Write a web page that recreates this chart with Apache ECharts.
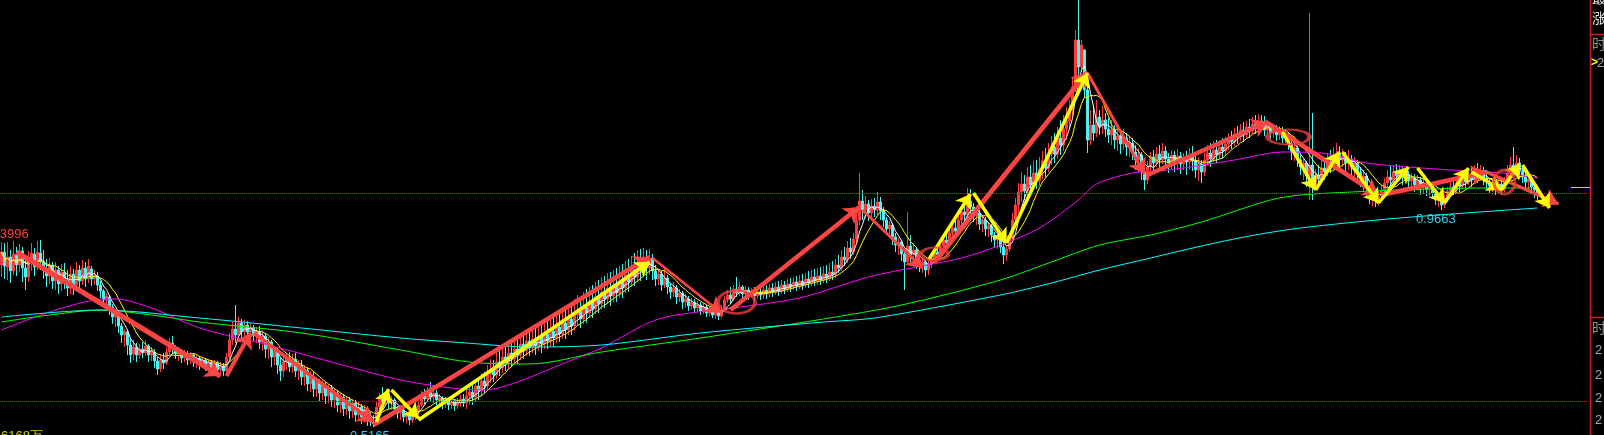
<!DOCTYPE html>
<html><head><meta charset="utf-8">
<script src="https://cdn.jsdelivr.net/npm/echarts/dist/echarts.min.js"></script>
<style>html,body{margin:0;padding:0;background:#000;overflow:hidden}#c{width:1604px;height:435px}</style>
</head><body><div id="c"></div>
<script>
// price values in thousandths: [open, close, low, high]
const candles = [
[840,866,816,886],[866,838,812,884],[836,856,810,886],[856,828,804,870],[828,862,820,888],[860,840,818,876],[840,868,826,882],[868,834,806,876],[834,816,790,850],[816,850,806,868],
[850,864,828,884],[862,836,818,874],[838,866,830,888],[864,846,830,890],[846,830,812,870],[830,818,796,852],[818,840,802,854],[840,808,792,846],[808,830,790,846],[830,802,782,838],
[802,826,788,842],[826,810,792,844],[810,794,778,830],[794,822,782,838],[822,800,780,832],[800,830,790,846],[830,808,792,840],[808,834,800,850],[834,812,796,846],[812,838,804,852],
[832,812,798,838],[812,820,800,830],[818,800,788,826],[800,788,774,808],[788,770,756,792],[770,778,752,784],[776,756,740,780],[756,736,722,762],[736,744,716,752],[742,718,704,746],
[718,700,684,724],[700,708,676,712],[706,680,660,710],[680,660,644,694],[662,676,650,690],[676,660,646,684],[660,672,652,682],[672,664,654,686],[664,678,658,690],[678,660,646,682],
[660,668,648,676],[666,648,634,672],[648,632,620,656],[632,650,626,660],[650,644,632,664],[644,666,640,676],[666,684,660,694],[684,672,662,698],[672,662,652,680],[662,670,648,676],
[668,654,644,672],[654,662,646,670],[662,650,640,668],[650,660,642,666],[660,646,636,664],[646,654,634,660],[654,642,630,658],[642,650,634,656],[650,638,628,654],[638,646,630,652],
[646,636,624,650],[636,644,628,650],[644,630,620,648],[630,638,622,646],[638,628,618,644],[628,656,624,664],[656,690,650,704],[690,712,680,726],[712,700,684,760],[700,724,690,736],
[724,706,692,732],[706,720,698,730],[720,706,694,728],[706,714,696,724],[714,700,688,720],[700,706,684,716],[706,686,672,718],[686,698,668,710],[698,672,654,704],[672,686,652,696],
[686,656,636,690],[656,668,640,678],[668,640,622,674],[640,628,608,654],[628,646,616,656],[646,654,630,664],[654,636,626,666],[636,652,624,662],[652,628,616,664],[628,640,610,650],
[640,616,600,650],[616,630,598,640],[630,602,588,636],[602,618,586,628],[618,592,576,626],[592,606,576,616],[606,584,568,612],[584,600,570,610],[600,578,562,606],[578,594,564,602],
[594,570,556,600],[570,584,554,594],[584,560,546,590],[560,576,544,584],[576,552,538,582],[552,570,540,578],[570,548,532,576],[548,564,534,572],[564,540,526,570],[540,556,528,566],
[556,536,522,562],[536,552,524,560],[552,530,518,558],[530,526,518,546],[526,522,516,540],[524,556,520,566],[556,574,548,584],[574,566,556,596],[566,580,558,588],[580,564,552,584],
[564,570,550,578],[570,552,540,574],[552,544,532,558],[544,550,530,556],[550,536,526,554],[536,542,524,548],[542,530,520,546],[530,540,524,548],[540,548,530,556],[548,560,540,570],
[560,580,556,588],[580,572,562,592],[572,588,566,596],[588,576,566,606],[576,584,564,592],[584,570,560,590],[570,574,558,582],[574,562,552,578],[562,570,554,576],[570,560,550,574],
[560,568,552,578],[568,558,548,572],[558,566,552,574],[566,572,556,580],[572,564,556,582],[564,578,552,594],[578,586,560,604],[586,576,560,602],[576,598,566,612],[598,588,570,616],
[588,608,576,624],[608,598,584,626],[598,622,588,640],[622,632,604,652],[632,620,606,650],[620,646,612,664],[646,634,618,668],[634,656,624,678],[656,642,628,676],[642,664,632,686],
[664,652,636,690],[652,672,642,696],[672,660,642,690],[660,682,650,702],[682,668,652,704],[668,688,658,712],[688,674,658,714],[674,692,664,708],[692,678,660,718],[678,696,668,722],
[696,682,664,724],[682,702,672,728],[702,688,672,732],[688,708,678,734],[708,694,678,740],[694,716,684,742],[716,702,686,746],[702,724,692,752],[724,710,692,756],[710,732,700,760],
[732,718,700,762],[718,740,708,772],[740,748,718,780],[748,732,714,774],[732,756,722,786],[756,744,724,792],[744,766,734,796],[766,752,734,800],[752,776,742,806],[776,762,744,810],
[762,786,752,816],[786,772,754,818],[772,794,762,824],[794,778,758,826],[778,800,766,830],[800,784,766,834],[784,808,774,838],[808,794,774,842],[794,820,784,848],[820,806,786,852],
[806,830,796,858],[830,816,798,864],[816,842,806,870],[842,828,808,872],[828,852,816,874],[852,834,810,870],[834,854,820,872],[854,828,810,862],[828,812,798,840],[812,822,800,832],
[822,800,788,828],[800,814,794,836],[814,796,782,820],[796,786,772,804],[786,794,776,806],[794,776,762,800],[776,784,766,792],[784,766,752,788],[766,772,754,782],[772,758,748,778],
[758,766,750,774],[766,754,744,772],[754,760,746,768],[760,748,740,766],[748,756,742,764],[756,744,736,760],[744,750,738,758],[750,740,734,756],[740,746,732,754],[746,738,730,752],
[738,750,734,760],[750,770,746,778],[770,780,764,790],[780,772,762,796],[772,792,768,800],[792,784,776,816],[784,796,778,806],[796,782,772,800],[782,790,776,798],[790,780,770,796],
[780,788,774,794],[788,778,768,796],[778,786,772,792],[786,780,770,794],[780,790,772,798],[790,782,772,800],[782,794,776,802],[794,786,776,804],[786,796,780,806],[796,788,778,808],
[788,800,782,810],[800,792,782,808],[792,802,786,812],[802,796,786,814],[796,806,790,816],[806,798,788,818],[798,808,792,820],[808,800,790,822],[800,812,794,824],[812,804,794,828],
[804,816,798,830],[816,808,798,832],[808,818,800,834],[818,810,800,836],[810,822,804,838],[822,814,804,840],[814,826,808,844],[826,820,810,848],[820,840,814,852],[840,834,824,860],
[834,856,828,870],[856,850,838,876],[850,874,844,888],[874,866,852,894],[866,892,860,904],[892,930,884,944],[930,968,920,1024],[968,950,930,990],[950,962,934,978],[962,944,928,970],
[944,958,932,972],[958,950,936,974],[950,966,940,986],[966,948,930,976],[948,930,916,956],[930,912,900,936],[912,920,896,928],[920,896,880,924],[896,880,866,904],[880,886,860,894],
[886,862,848,890],[862,846,790,870],[846,878,840,946],[878,860,846,900],[860,870,842,884],[870,848,832,876],[848,838,826,856],[838,846,824,854],[846,830,816,850],[830,842,820,852],
[842,852,834,862],[852,866,844,874],[866,860,848,880],[860,878,854,888],[878,890,866,900],[890,884,872,906],[884,904,878,914],[904,914,894,926],[914,908,898,932],[908,930,902,944],
[930,946,922,958],[946,940,928,970],[940,968,934,994],[968,956,940,992],[956,938,926,964],[938,944,920,958],[944,922,910,950],[922,930,906,940],[930,912,898,936],[912,918,896,926],
[918,900,886,922],[900,890,874,906],[890,896,872,904],[896,876,864,900],[876,860,842,882],[860,872,848,880],[872,894,866,904],[894,930,884,944],[930,960,914,974],[960,986,944,1004],
[986,1002,966,1026],[1002,988,970,1020],[988,1016,978,1036],[1016,1000,984,1040],[1000,1024,990,1048],[1024,1008,992,1050],[1008,1032,998,1056],[1032,1048,1012,1068],[1048,1034,1016,1074],[1034,1062,1026,1084],
[1062,1076,1040,1098],[1076,1062,1044,1104],[1062,1094,1052,1116],[1094,1080,1060,1130],[1080,1112,1068,1140],[1112,1128,1090,1156],[1128,1150,1110,1170],[1150,1196,1140,1216],[1196,1290,1186,1310],[1290,1236,1220,1372],
[1236,1280,1226,1290],[1270,1190,1176,1272],[1190,1090,1064,1204],[1090,1120,1080,1150],[1120,1104,1088,1160],[1104,1136,1096,1170],[1136,1118,1100,1150],[1118,1130,1102,1158],[1130,1112,1096,1144],[1112,1100,1084,1134],
[1100,1110,1080,1130],[1110,1090,1072,1120],[1090,1098,1068,1116],[1098,1082,1062,1110],[1082,1094,1070,1112],[1094,1076,1058,1104],[1076,1084,1056,1098],[1084,1066,1050,1094],[1066,1050,1030,1080],[1050,1060,1026,1074],
[1060,1028,1010,1066],[1028,1010,990,1040],[1010,1036,1002,1048],[1036,1056,1028,1066],[1056,1044,1030,1070],[1044,1062,1036,1076],[1062,1050,1034,1080],[1050,1068,1042,1084],[1068,1052,1036,1078],[1052,1044,1024,1064],
[1044,1060,1032,1070],[1060,1048,1026,1068],[1048,1058,1030,1072],[1058,1042,1022,1066],[1042,1054,1030,1064],[1054,1046,1020,1068],[1046,1060,1030,1074],[1060,1048,1028,1078],[1048,1030,1014,1060],[1030,1042,1008,1056],
[1042,1026,1004,1050],[1026,1050,1018,1064],[1050,1064,1040,1080],[1064,1052,1036,1084],[1052,1070,1046,1088],[1070,1060,1044,1090],[1060,1076,1052,1090],[1076,1068,1054,1094],[1068,1082,1060,1096],[1082,1094,1070,1104],
[1094,1086,1072,1108],[1086,1102,1078,1114],[1102,1096,1082,1118],[1096,1110,1088,1122],[1110,1100,1086,1126],[1100,1116,1092,1128],[1116,1108,1094,1132],[1108,1122,1100,1136],[1122,1114,1102,1140],[1114,1128,1106,1142],
[1128,1120,1108,1140],[1120,1110,1098,1138],[1110,1118,1100,1130],[1118,1104,1092,1124],[1104,1112,1094,1122],[1112,1100,1088,1120],[1100,1108,1090,1118],[1108,1094,1084,1116],[1094,1100,1084,1112],[1100,1082,1070,1106],
[1082,1066,1050,1090],[1066,1074,1048,1084],[1074,1050,1036,1078],[1050,1036,1020,1060],[1036,1044,1010,1052],[1044,1018,996,1048],[1018,1040,970,1344],[1040,1000,970,1144],[1000,1020,990,1032],[1020,1012,996,1040],
[1012,1034,1004,1050],[1034,1026,1010,1056],[1026,1046,1018,1064],[1046,1038,1024,1070],[1038,1054,1030,1076],[1054,1064,1042,1084],[1064,1050,1034,1078],[1050,1058,1036,1072],[1058,1044,1026,1066],[1044,1052,1030,1070],
[1052,1036,1020,1060],[1036,1044,1016,1056],[1044,1026,1008,1050],[1026,1012,996,1036],[1012,1018,986,1030],[1018,996,976,1024],[996,980,962,1000],[980,986,958,994],[986,970,956,992],[970,978,958,988],
[978,990,966,1000],[990,1004,982,1014],[1004,1016,994,1030],[1016,1010,998,1040],[1010,1026,1002,1040],[1026,1018,1004,1042],[1018,1030,1008,1040],[1030,1016,1000,1036],[1016,1022,1002,1030],[1022,1008,994,1028],
[1008,1014,994,1024],[1014,1000,986,1022],[1000,1010,988,1020],[1010,996,980,1016],[996,1004,982,1014],[1004,992,978,1012],[992,998,976,1006],[998,984,972,1004],[984,970,960,990],[970,976,956,984],
[976,960,950,982],[960,972,954,980],[972,988,966,996],[988,996,978,1006],[996,990,980,1010],[990,1004,984,1016],[1004,998,986,1020],[998,1012,992,1024],[1012,1006,994,1026],[1006,1018,1000,1030],
[1018,1010,996,1036],[1010,1024,1004,1040],[1024,1018,1004,1044],[1018,1028,1008,1040],[1028,1014,1000,1036],[1014,1006,992,1030],[1006,998,984,1014],[998,1004,986,1012],[1004,994,980,1016],[994,1002,984,1010],
[1002,992,980,1012],[992,1006,986,1016],[1006,1024,1000,1040],[1024,1040,1016,1056],[1040,1030,1018,1076],[1030,1044,1020,1060],[1044,1028,1012,1054],[1028,1016,1004,1034],[1016,1006,992,1026],[1006,1012,990,1022],
[1012,996,982,1018],[996,990,974,1004],[990,984,970,998]
];
// slow moving averages: [barIndex, value]
const maMagenta = [[0,710],[16,746],[31,770],[38,772],[50,754],[66,714],[89,680],[110,646],[133,610],[150,594],[161,590],[172,606],[186,640],[200,674],[219,732],[244,754],[266,774],[289,816],[305,836],[320,854],[333,880],[346,914],[359,970],[365,1002],[377,1024],[389,1030],[411,1050],[427,1066],[440,1064],[455,1044],[483,1030],[500,1024],[512,1014]];
const maGreen = [[0,726],[16,740],[33,750],[50,740],[66,726],[100,704],[133,670],[156,646],[176,642],[200,666],[233,694],[274,732],[300,760],[333,810],[350,846],[366,880],[383,900],[400,926],[423,970],[433,980],[450,986],[466,990],[495,994],[510,994]];
const maCyan = [[0,736],[33,750],[66,734],[100,714],[133,694],[155,684],[176,676],[200,680],[233,704],[274,726],[291,734],[333,780],[350,804],[366,830],[383,854],[400,878],[416,898],[433,914],[466,934],[512,954]];
// hand-drawn annotations: [startIndex, startValue, endIndex, endValue]
const redArrows = [[5,866,73,618],[75,618,83,704],[84,704,124,526],[124,520,216,856],[217,854,240,744],[243,750,286,956],[287,950,307,834],[311,846,362,1226],[362,1224,381,1022],[382,1020,422,1126],[422,1124,459,980],[460,980,495,1026],[495,1026,519,962]];
const yellowArrows = [[125,526,129,592],[130,590,139,534],[139,530,216,846],[309,850,323,982],[324,984,335,884],[335,884,362,1224],[427,1106,438,990],[438,990,446,1066],[447,1066,459,964],[459,964,469,1036],[472,1034,481,964],[481,964,489,1034],[490,1026,500,990],[500,990,506,1042],[507,1040,516,954]];
const circles = [[245,766],[311,862],[429,1096],[501,1006]];
const guideLevels = [984, 568];
const categories = Array.from({length: 530}, (_, i) => i);

// styles
const redW = [5,4,4,4.5,2.5,4.5,3,5,3,4.5,4.5,4.5,3.5];
const circleSize = [[37,23],[27,13],[42,15],[21,24]];

function ma(n){
  const out = [];
  for (let i = 0; i < candles.length; i++) {
    const s = Math.max(0, i - n + 1); let sum = 0;
    for (let k = s; k <= i; k++) sum += candles[k][1];
    out.push(+(sum / (i - s + 1)).toFixed(1));
  }
  return out;
}
const RED = '#ff4444', YEL = '#ffff00';
const chart = echarts.init(document.getElementById('c'), null, {renderer: 'canvas'});
const arrowLine = (a, color, w) => [
  {coord: [a[0], a[1]], lineStyle: {color: color, width: w, type: 'solid'}},
  {coord: [a[2], a[3]], lineStyle: {color: color, width: w, type: 'solid'}}
];
const font = 'Liberation Sans, Arial, sans-serif';
chart.setOption({
  backgroundColor: '#000',
  animation: false,
  grid: {left: 0, right: 14, top: 0, bottom: 0},
  xAxis: {type: 'category', data: categories, show: false, boundaryGap: true},
  yAxis: {type: 'value', min: 500, max: 1370, show: false, splitLine: {show: false}},
  series: [
    {type: 'candlestick', data: candles, barWidth: 2, z: 2,
     itemStyle: {color: '#ff3c3c', color0: '#4cf4f4', borderColor: '#ff3c3c', borderColor0: '#4cf4f4', borderWidth: 1},
     markLine: {silent: true, symbol: 'none', label: {show: false},
       lineStyle: {color: '#b41e1e', type: 'dotted', width: 1},
       data: guideLevels.map(v => ({yAxis: v}))}},
    {type: 'line', data: ma(5), showSymbol: false, z: 3, lineStyle: {color: '#ffffff', width: 1}, silent: true},
    {type: 'line', data: ma(10), showSymbol: false, z: 3, lineStyle: {color: '#ffff00', width: 1}, silent: true},
    {type: 'line', data: maMagenta, showSymbol: false, smooth: 0.3, z: 3, lineStyle: {color: '#ff00ff', width: 1}, silent: true},
    {type: 'line', data: maGreen, showSymbol: false, smooth: 0.3, z: 3, lineStyle: {color: '#00ff00', width: 1}, silent: true},
    {type: 'line', data: maCyan, showSymbol: false, smooth: 0.3, z: 3, lineStyle: {color: '#00ffff', width: 1}, silent: true},
    {type: 'line', data: [], z: 5, silent: true,
     markLine: {silent: true, symbol: ['none', 'arrow'], symbolSize: 15, label: {show: false}, animation: false,
       lineStyle: {type: 'solid'},
       data: redArrows.map((a, i) => arrowLine(a, RED, redW[i]))}},
    {type: 'line', data: [], z: 6, silent: true,
     markLine: {silent: true, symbol: ['none', 'arrow'], symbolSize: 14, label: {show: false}, animation: false,
       lineStyle: {type: 'solid'},
       data: yellowArrows.map(a => arrowLine(a, YEL, 3.5))}},
    {type: 'scatter', z: 7, silent: true, symbol: 'circle',
     data: circles.map((c, i) => ({value: c, symbolSize: circleSize[i]})),
     itemStyle: {color: 'rgba(0,0,0,0)', borderColor: '#f03c3c', borderWidth: 3}}
  ],
  graphic: [
    {type: 'line', shape: {x1: 1590.5, y1: 0, x2: 1590.5, y2: 435}, style: {stroke: '#d01c1c', lineWidth: 1.5}},
    {type: 'line', shape: {x1: 1590, y1: 34.5, x2: 1604, y2: 34.5}, style: {stroke: '#d01c1c', lineWidth: 1.5}},
    {type: 'line', shape: {x1: 1590, y1: 317.5, x2: 1604, y2: 317.5}, style: {stroke: '#d01c1c', lineWidth: 1.5}},
    {type: 'line', shape: {x1: 1571, y1: 187.5, x2: 1590, y2: 187.5}, style: {stroke: '#e0e000', lineWidth: 1}},
    {type: 'text', left: -11, top: 228, style: {text: '0.3996', fill: '#ff4040', font: '13px ' + font}},
    {type: 'text', left: 1416, top: 213, style: {text: '0.9663', fill: '#33ccee', font: '13px ' + font}},
    {type: 'text', left: 350, top: 430, style: {text: '0.5165', fill: '#33ccee', font: '13px ' + font}},
    {type: 'text', left: 1, top: 430, style: {text: '6168万', fill: '#d8d800', font: '13px ' + font}},
    {type: 'text', left: 1592, top: -9, style: {text: '最', fill: '#e8e8e8', font: '14px Noto Sans CJK SC'}},
    {type: 'text', left: 1592, top: 11, style: {text: '涨', fill: '#e8e8e8', font: '14px Noto Sans CJK SC'}},
    {type: 'text', left: 1592, top: 37, style: {text: '时', fill: '#909090', font: '14px Noto Sans CJK SC'}},
    {type: 'text', left: 1591, top: 57, style: {text: '>', fill: '#ffff00', font: 'bold 12px ' + font}},
    {type: 'text', left: 1597, top: 57, style: {text: '2', fill: '#a0a8b0', font: '13px ' + font}},
    {type: 'text', left: 1592, top: 321, style: {text: '时', fill: '#909090', font: '14px Noto Sans CJK SC'}},
    {type: 'text', left: 1595, top: 344, style: {text: '2', fill: '#a0a8b0', font: '13px ' + font}},
    {type: 'text', left: 1595, top: 369, style: {text: '2', fill: '#a0a8b0', font: '13px ' + font}},
    {type: 'text', left: 1595, top: 392, style: {text: '2', fill: '#a0a8b0', font: '13px ' + font}},
    {type: 'text', left: 1595, top: 414, style: {text: '2', fill: '#a0a8b0', font: '13px ' + font}}
  ]
});
</script></body></html>
